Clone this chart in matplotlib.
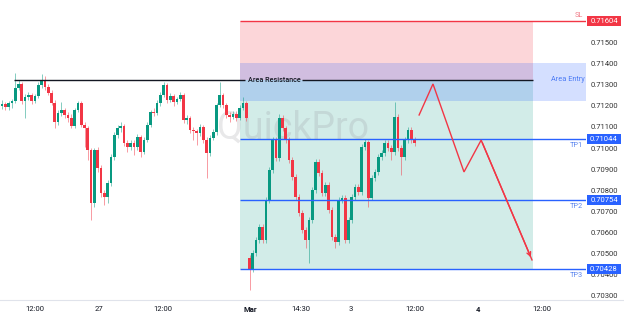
import matplotlib
matplotlib.use("Agg")
import matplotlib.pyplot as plt
import matplotlib.transforms as mtransforms
from matplotlib.patches import Rectangle
import numpy as np

plt.rcParams['font.family'] = ['Roboto', 'DejaVu Sans']

# ---- data (prices in points, 1 pt = 0.00001) ----
opens = [71202, 71211, 71197, 71216, 71225, 71287, 71306, 71225, 71244, 71254,
         71225, 71249, 71301, 71325, 71292, 71263, 71216, 71126, 71168, 71183,
         71159, 71145, 71107, 71183, 71216, 71111, 71097, 70993, 70742, 70993,
         70908, 70789, 70770, 70837, 70960, 71064, 71097, 71107, 71026, 71007,
         71026, 71007, 71055, 70984, 71040, 71111, 71173, 71168, 71216, 71254,
         71301, 71230, 71249, 71220, 71235, 71254, 71135, 71145, 71088, 71083,
         71074, 71102, 71040, 70979, 71050, 71078, 71206, 71254, 71206, 71159,
         71149, 71164, 71145, 71192, 71216, 70481, 70424, 70505, 70566, 70628,
         70566, 70756, 70898, 71040, 70955, 71145, 71097, 71040, 70946, 70865,
         70770, 70694, 70614, 70566, 70661, 70803, 70936, 70884, 70789, 70827,
         70709, 70581, 70557, 70756, 70766, 70566, 70661, 70770, 70818, 70794,
         71007, 71031, 70766, 70860, 70889, 70960, 70979, 71026, 71002, 70984,
         71149, 71002, 70960, 71040, 71088, 71040]
closes = [71211, 71197, 71216, 71225, 71287, 71306, 71225, 71244, 71254, 71225,
          71249, 71301, 71325, 71292, 71263, 71216, 71126, 71168, 71183, 71159,
          71145, 71107, 71183, 71216, 71111, 71097, 70993, 70742, 70993, 70908,
          70789, 70770, 70837, 70960, 71064, 71097, 71107, 71026, 71007, 71026,
          71007, 71055, 70984, 71040, 71111, 71173, 71168, 71216, 71254, 71301,
          71230, 71249, 71220, 71235, 71254, 71135, 71145, 71088, 71083, 71074,
          71102, 71040, 70979, 71050, 71078, 71206, 71254, 71206, 71159, 71149,
          71164, 71145, 71192, 71216, 71145, 70424, 70505, 70566, 70628, 70566,
          70756, 70898, 71040, 70955, 71145, 71097, 71040, 70946, 70865, 70770,
          70694, 70614, 70566, 70661, 70803, 70936, 70884, 70789, 70827, 70709,
          70581, 70557, 70756, 70766, 70566, 70661, 70770, 70818, 70794, 71007,
          71031, 70766, 70860, 70889, 70960, 70979, 71026, 71002, 70984, 71149,
          71002, 70960, 71040, 71088, 71040, 71026]
highs = [71230, 71220, 71225, 71235, 71358, 71325, 71315, 71258, 71268, 71263,
         71258, 71315, 71353, 71344, 71306, 71277, 71230, 71183, 71220, 71192,
         71173, 71164, 71192, 71225, 71225, 71126, 71107, 71002, 71002, 71007,
         70922, 70803, 70851, 70974, 71078, 71111, 71126, 71116, 71040, 71040,
         71040, 71069, 71064, 71055, 71126, 71183, 71192, 71230, 71268, 71315,
         71311, 71263, 71258, 71244, 71268, 71263, 71159, 71154, 71102, 71093,
         71116, 71111, 71055, 71064, 71093, 71216, 71315, 71263, 71216, 71173,
         71178, 71178, 71206, 71244, 71225, 70495, 70519, 70581, 70642, 70642,
         70770, 70912, 71055, 71055, 71164, 71159, 71107, 71055, 70960, 70879,
         70784, 70709, 70628, 70675, 70818, 70950, 70950, 70898, 70841, 70841,
         70723, 70595, 70770, 70780, 70780, 70675, 70784, 70832, 70832, 71021,
         71045, 71040, 70874, 70903, 70974, 70993, 71040, 71040, 71017, 71220,
         71164, 71017, 71055, 71102, 71102, 71055]
lows = [71187, 71183, 71183, 71192, 71216, 71277, 71211, 71145, 71230, 71211,
        71216, 71239, 71287, 71277, 71254, 71206, 71097, 71111, 71154, 71145,
        71126, 71097, 71097, 71173, 71102, 71007, 70946, 70661, 70723, 70889,
        70770, 70732, 70742, 70822, 70946, 71050, 71078, 71012, 70984, 70993,
        70969, 70993, 70960, 70974, 71031, 71102, 71154, 71159, 71202, 71244,
        71216, 71220, 71202, 71211, 71225, 71121, 71116, 71074, 71040, 71017,
        71059, 71026, 70860, 70965, 71040, 71064, 71197, 71192, 71145, 71126,
        71140, 71130, 71135, 71183, 71130, 70329, 70415, 70491, 70552, 70552,
        70552, 70742, 70884, 70941, 70941, 71083, 71026, 70931, 70851, 70756,
        70680, 70600, 70528, 70457, 70647, 70789, 70870, 70775, 70775, 70694,
        70566, 70528, 70543, 70742, 70552, 70552, 70647, 70756, 70780, 70780,
        70993, 70723, 70756, 70846, 70874, 70946, 70965, 70988, 70946, 70969,
        70988, 70874, 70946, 71026, 71026, 71012]

time_tick_idx = [10.0, 29.5, 48.9, 75.2, 90.6, 105.8, 125.0, 144.2, 163.5]
time_tick_labels = ["12:00", "27", "12:00", "Mar", "14:30", "3", "12:00", "4", "12:00"]
bold_ticks = ["Mar", "4"]

price_ticks = [0.70300, 0.70400, 0.70500, 0.70600, 0.70700, 0.70800, 0.70900,
               0.71000, 0.71100, 0.71200, 0.71300, 0.71400, 0.71500]

SL = 0.71604
ENTRY = 0.71325
ENTRY_TOP = 0.71405
ENTRY_BOTTOM = 0.71225
TP1 = 0.71044
TP2 = 0.70754
TP3 = 0.70428

# projected path (candle index, price)
path_idx = [126.4, 130.6, 140.0, 145.2, 160.6]
path_price = [0.71159, 0.71306, 0.70889, 0.71040, 0.70472]

# ---- figure ----
W, H = 624, 316
fig = plt.figure(figsize=(W / 100, H / 100), dpi=100)
fig.patch.set_facecolor("white")
ax_right_px = 586
ax = fig.add_axes([0, 16 / H, ax_right_px / W, 300 / H])
ax.set_facecolor("white")

def px_to_idx(px):
    return (px - 2) / 3.3

x_left, x_right = px_to_idx(0), px_to_idx(ax_right_px)
ax.set_xlim(x_left, x_right)
ax.set_ylim(0.70282, 0.71704)

o = np.array(opens) / 1e5
c = np.array(closes) / 1e5
h = np.array(highs) / 1e5
l = np.array(lows) / 1e5
idx = np.arange(len(o))

GREEN = "#089981"
RED = "#f23645"
BLUE = "#2962ff"

zone_start = px_to_idx(240)
zone_end = px_to_idx(533)

# zones
ax.add_patch(Rectangle((zone_start, ENTRY), zone_end - zone_start, SL - ENTRY,
                       facecolor=(242/255, 54/255, 69/255, 0.2), edgecolor="none", zorder=0.5))
ax.add_patch(Rectangle((zone_start, TP3), zone_end - zone_start, ENTRY - TP3,
                       facecolor=(8/255, 153/255, 129/255, 0.18), edgecolor="none", zorder=0.5))
ax.add_patch(Rectangle((zone_start, ENTRY_BOTTOM), x_right - zone_start, ENTRY_TOP - ENTRY_BOTTOM,
                       facecolor=(41/255, 98/255, 255/255, 0.2), edgecolor="none", zorder=0.6))

# watermark
ax.text(px_to_idx(293), 0.71097, "QuickPro", fontsize=27, color=(0.55, 0.55, 0.58, 0.2),
        ha="center", va="center", zorder=0.8)

# candles
col = np.where(c >= o, GREEN, RED)
ax.vlines(idx, l, h, colors=col, linewidth=0.7, alpha=0.5, zorder=2)
body_bottom = np.minimum(o, c)
body_h = np.maximum(np.abs(c - o), 0.000015)
ax.bar(idx, body_h, bottom=body_bottom, width=0.8, color=col, edgecolor="none", zorder=3)

# lines
ax.hlines(SL, zone_start, x_right, color=RED, linewidth=1.0, zorder=4)
for tp in (TP1, TP2, TP3):
    ax.hlines(tp, zone_start, x_right, color=BLUE, linewidth=1.0, zorder=4)
ax.hlines(ENTRY, px_to_idx(14), px_to_idx(245), color="#131722", linewidth=1.0, zorder=4)
ax.hlines(ENTRY, px_to_idx(302), zone_end, color="#131722", linewidth=1.0, zorder=4)
ax.text(px_to_idx(274), ENTRY, "Area Resistance", fontsize=5.2, color="#131722",
        ha="center", va="center", fontweight="medium", zorder=5)
ax.text(px_to_idx(568), ENTRY, "Area Entry", fontsize=5.3, color="#4d7cf5",
        ha="center", va="center", zorder=5)

# projected path
ax.plot(path_idx, path_price, color=RED, linewidth=1.0, zorder=5, solid_joinstyle="miter")
ax.annotate("", xy=(path_idx[-1], path_price[-1]), xytext=(path_idx[-2], path_price[-2]),
            arrowprops=dict(arrowstyle="->", color=RED, lw=1.0, mutation_scale=7), zorder=5)

# small labels above/below lines
ax.text(px_to_idx(583), SL + 0.00012, "SL", fontsize=5.3, color="#f07a86", ha="right", va="bottom")
for tp, name in ((TP1, "TP1"), (TP2, "TP2"), (TP3, "TP3")):
    ax.text(px_to_idx(583), tp - 0.00012, name, fontsize=5.3, color="#5b86f0", ha="right", va="top")

# axes styling
for s in ax.spines.values():
    s.set_visible(False)
ax.set_yticks([])
ax.set_xticks(time_tick_idx)
ax.set_xticklabels(time_tick_labels)
ax.tick_params(axis="x", length=0, pad=4, labelsize=5.5, labelcolor="#131722")
for t in ax.get_xticklabels():
    if t.get_text() in bold_ticks:
        t.set_fontweight("bold")

# bottom separator
fig.add_artist(plt.Line2D([0, 1], [16 / H, 16 / H], color="#e0e3eb", linewidth=0.8))

# right price scale
blend = mtransforms.blended_transform_factory(fig.transFigure, ax.transData)
for p in price_ticks:
    ax.text(604.5 / W, p, f"{p:.5f}", transform=blend, fontsize=5.5, color="#333333",
            ha="center", va="center", clip_on=False, zorder=6)

box_h = 0.00047
for val, colr in ((SL, RED), (TP1, BLUE), (TP2, BLUE), (TP3, BLUE)):
    ax.add_patch(Rectangle((587 / W, val - box_h / 2), 34 / W, box_h, transform=blend,
                           facecolor=colr, edgecolor="none", clip_on=False, zorder=7))
    ax.text(604 / W, val, f"{val:.5f}", transform=blend, fontsize=5.5, color="white",
            ha="center", va="center", clip_on=False, zorder=8)

fig.savefig("out.png", dpi=100)
